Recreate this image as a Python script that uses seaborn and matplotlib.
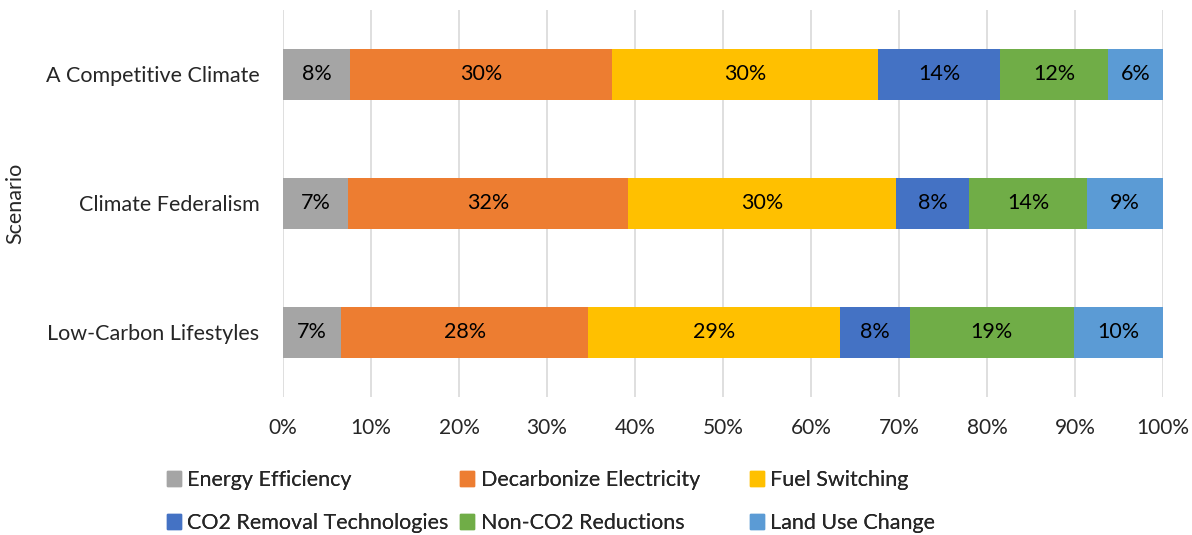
import matplotlib
matplotlib.use("Agg")
import matplotlib.pyplot as plt
import matplotlib.patches as mpatches
import numpy as np
import pandas as pd
import seaborn as sns

# data (percent of total reductions)
scenarios = ["A Competitive Climate", "Climate Federalism", "Low-Carbon Lifestyles"]
series_names = [
    "Energy Efficiency",
    "Decarbonize Electricity",
    "Fuel Switching",
    "CO2 Removal Technologies",
    "Non-CO2 Reductions",
    "Land Use Change",
]
energy_efficiency = [7.6, 7.4, 6.6]
decarbonize_electricity = [29.8, 31.8, 28.1]
fuel_switching = [30.2, 30.5, 28.6]
co2_removal = [13.9, 8.2, 7.95]
non_co2 = [12.3, 13.5, 18.6]
land_use = [6.25, 8.6, 10.16]

colors = ["#A5A5A5", "#ED7D31", "#FFC000", "#4472C4", "#70AD47", "#5B9BD5"]
x_ticks = [0, 10, 20, 30, 40, 50, 60, 70, 80, 90, 100]

sns.set_style("white")
plt.rcParams["font.family"] = ["Lato", "DejaVu Sans"]
FS = 15.5

df = pd.DataFrame(
    {
        "Scenario": scenarios,
        series_names[0]: energy_efficiency,
        series_names[1]: decarbonize_electricity,
        series_names[2]: fuel_switching,
        series_names[3]: co2_removal,
        series_names[4]: non_co2,
        series_names[5]: land_use,
    }
)
cum = df[series_names].cumsum(axis=1)

fig = plt.figure(figsize=(11.92, 5.35), dpi=100)
ax = fig.add_axes([0.2374, 0.258, 0.7383, 0.7234])

# stacked bars: draw cumulative totals from the last series down
for name, color in reversed(list(zip(series_names, colors))):
    sns.barplot(
        x=cum[name], y=df["Scenario"], orient="h", color=color,
        saturation=1, width=0.4, ax=ax, linewidth=0,
    )

# segment labels
for name in series_names:
    for i, (v, c) in enumerate(zip(df[name], cum[name])):
        ax.text(c - v / 2, i, f"{round(v):.0f}%", ha="center", va="center",
                fontsize=FS, color="black")

ax.set_xlim(0, 100)
ax.set_ylim(2.5, -0.5)
ax.set_xticks(x_ticks)
ax.set_xticklabels([f"{t}%" for t in x_ticks], fontsize=15)
ax.tick_params(axis="x", length=0, pad=15)
ax.tick_params(axis="y", length=0, pad=17, labelsize=FS)
ax.set_xlabel("")
ax.set_ylabel("Scenario", fontsize=FS)
ax.yaxis.set_label_coords(-0.293, 0.5)
ax.grid(True, axis="x", color="#D9D9D9", linewidth=1.2)
ax.set_axisbelow(True)
sns.despine(ax=ax, left=True, bottom=True)

# legend entries laid out on the spreadsheet legend grid
legend_pos = [(0.140, 0.103), (0.386, 0.103), (0.629, 0.103),
              (0.140, 0.0224), (0.386, 0.0224), (0.629, 0.0224)]
for name, color, pos in zip(series_names, colors, legend_pos):
    leg = fig.legend(
        handles=[mpatches.Patch(color=color, label=name)],
        loc="center left", bbox_to_anchor=pos, frameon=False,
        fontsize=FS, handlelength=0.65, handleheight=0.65,
        handletextpad=0.3, borderpad=0, borderaxespad=0,
    )
    fig.add_artist(leg)

fig.savefig("out.png", dpi=100)
